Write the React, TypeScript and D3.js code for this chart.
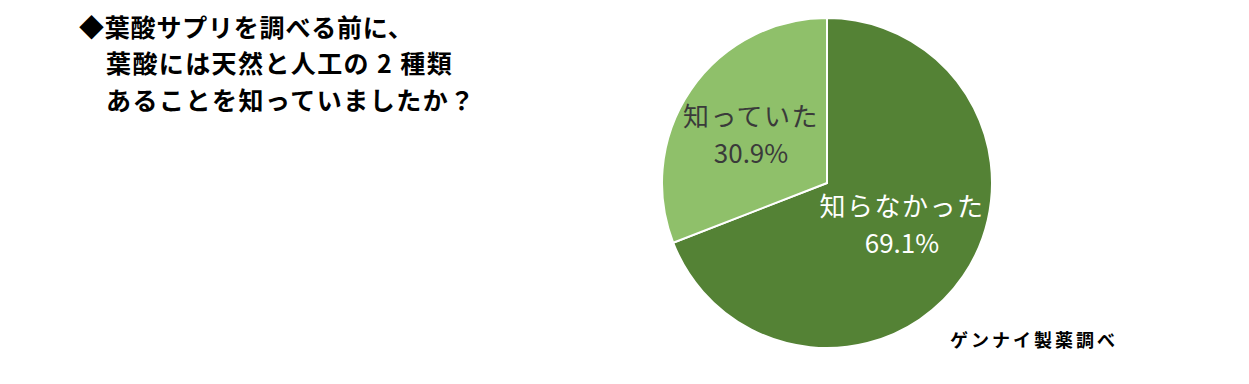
import React from "react";
import * as d3 from "d3";

const categories = ["知らなかった", "知っていた"];
const values = [69.1, 30.9];
const colors = ["#548235", "#8FC06A"];
const labelColors = ["#ffffff", "#3a3a3a"];
const titleLines = ["◆葉酸サプリを調べる前に、", "葉酸には天然と人工の 2 種類", "あることを知っていましたか？"];
const sourceText = "ゲンナイ製薬調べ";

export default function App() {
  const W = 1249, H = 384;
  const cx = 827, cy = 183, r = 165;
  const pie = d3.pie<number>().sort(null).value((d) => d)(values);
  const arc = d3.arc<d3.PieArcDatum<number>>().innerRadius(0).outerRadius(r);
  const labelPos = [
    [75, 33],
    [-76, -57],
  ];
  const font = "'Noto Sans CJK JP', 'Noto Sans', sans-serif";
  return (
    <svg width={W} height={H} style={{ position: "absolute", left: 0, top: 0, background: "#fff" }}>
      <g fontFamily={font} fontWeight="bold" fontSize={25} fill="#000">
        <text x={79} y={37} letterSpacing={0.8}>{titleLines[0]}</text>
        <text x={106} y={73} letterSpacing={1.4}>{titleLines[1]}</text>
        <text x={106} y={110} letterSpacing={1.5}>{titleLines[2]}</text>
      </g>
      <g transform={`translate(${cx},${cy})`}>
        {pie.map((p, i) => (
          <path key={i} d={arc(p) || ""} fill={colors[i]} stroke="#fff" strokeWidth={2} />
        ))}
        {pie.map((p, i) => (
          <g key={"l" + i} fontFamily={font} fontSize={26} fill={labelColors[i]} textAnchor="middle">
            <text x={labelPos[i][0]} y={labelPos[i][1]} letterSpacing={1.5}>{categories[i]}</text>
            <text x={labelPos[i][0]} y={labelPos[i][1] + 37}>{d3.format(".1f")(values[i])}%</text>
          </g>
        ))}
      </g>
      <text x={950} y={347} fontFamily={font} fontWeight="bold" fontSize={18} letterSpacing={3} fill="#000">{sourceText}</text>
    </svg>
  );
}
